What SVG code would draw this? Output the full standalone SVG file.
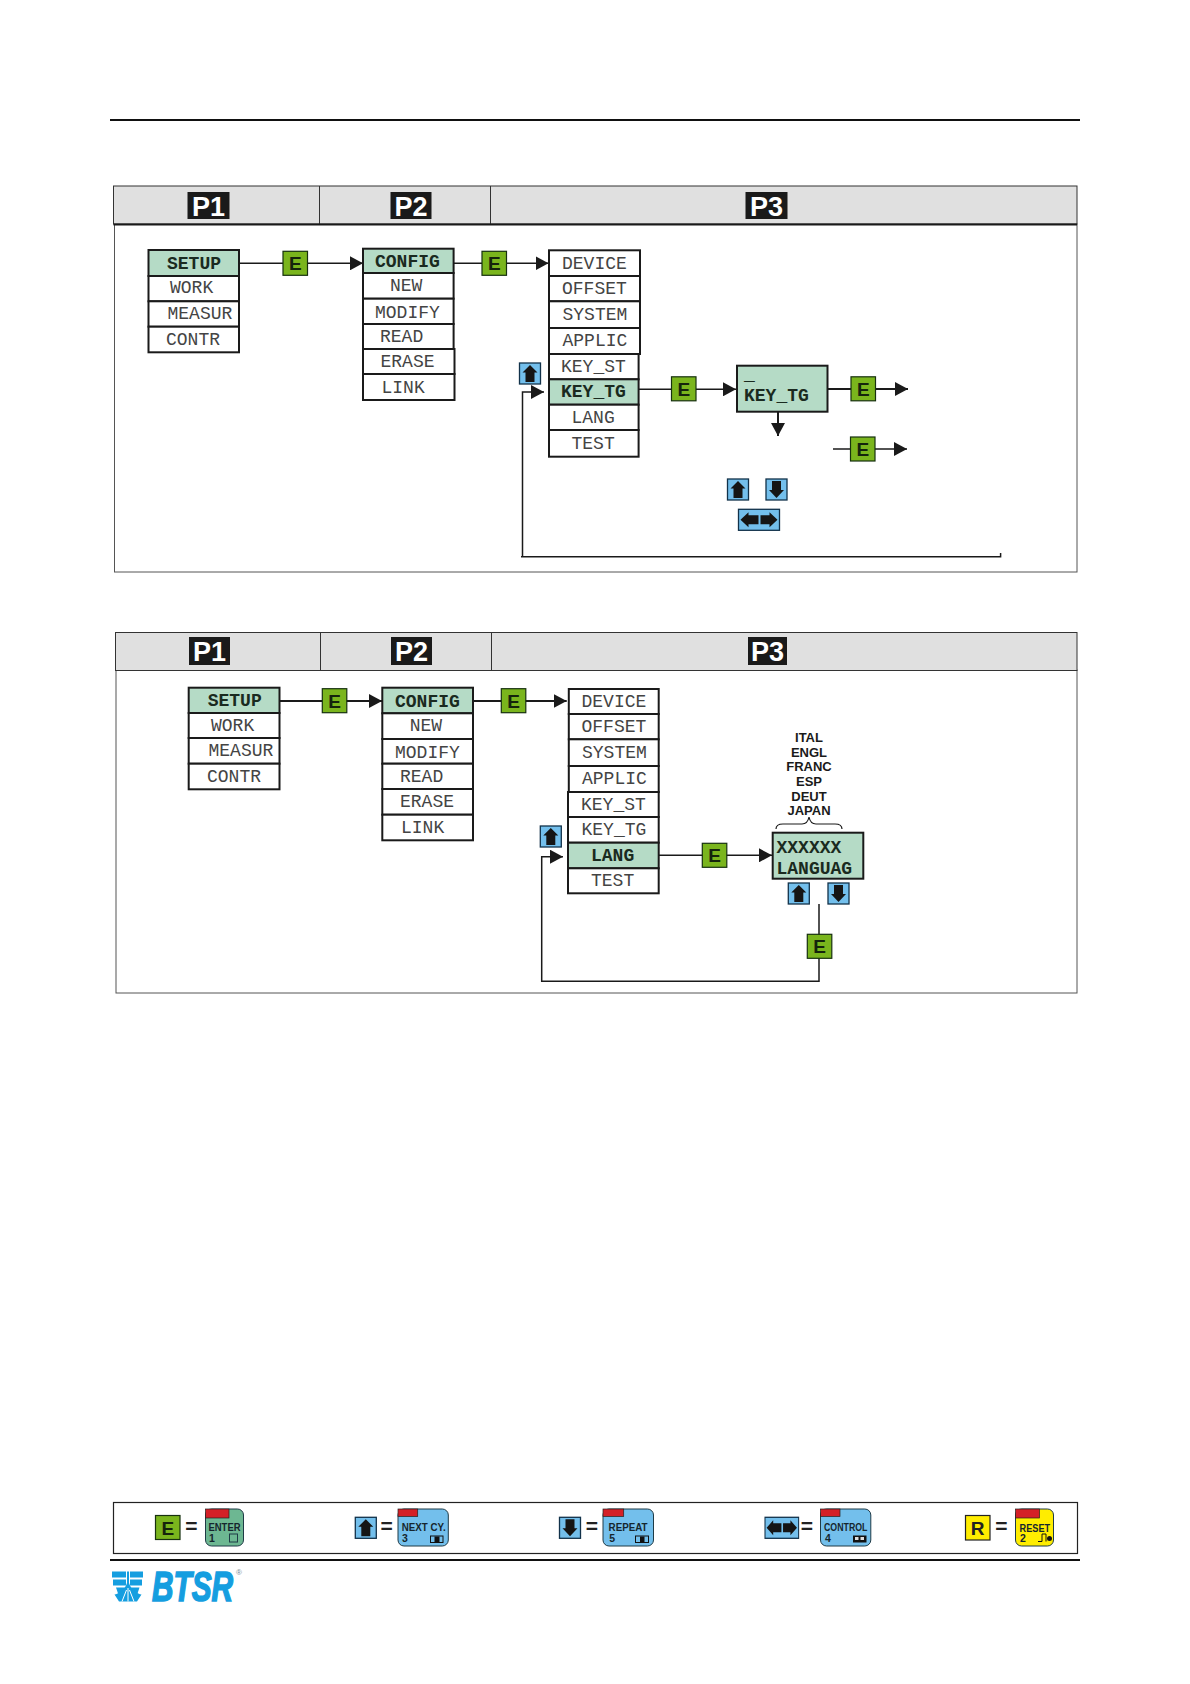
<svg xmlns="http://www.w3.org/2000/svg" width="1190" height="1684" viewBox="0 0 1190 1684">
<style>
.hd{fill:#e0e0e0;stroke:#333;stroke-width:1}
.body{fill:#fff;stroke:#555;stroke-width:1}
.rule{stroke:#111;stroke-width:2;fill:none}
.badge{fill:#1a1a1a}
.bt{font:bold 27px "Liberation Sans",sans-serif;fill:#fff;text-anchor:middle}
.r{fill:#fff;stroke:#1a1a1a;stroke-width:2}
.g{fill:#b5dbc6;stroke:#1a1a1a;stroke-width:2}
.m{font:18px "Liberation Mono",monospace;fill:#444}
.mb{font:bold 18px "Liberation Mono",monospace;fill:#1a2a20}
.c{fill:none;stroke:#1a1a1a;stroke-width:1.5}
.e{fill:#7ab51d;stroke:#17310f;stroke-width:1.2}
.et{font:bold 19px "Liberation Sans",sans-serif;fill:#15240c;text-anchor:middle}
.bl{fill:#73bfec;stroke:#12324a;stroke-width:1.3}
.ar{fill:#151515}
.ln{font:bold 13px "Liberation Sans",sans-serif;fill:#1a1a1a;text-anchor:middle}
.eq{font:bold 21px "Liberation Sans",sans-serif;fill:#222;text-anchor:middle}
.k{stroke:#1f3b46;stroke-width:1}
.kt{font:bold 10.500px "Liberation Sans",sans-serif;fill:#15262e}
.red{fill:#d42027;stroke:#222;stroke-width:.7}
.ic{fill:#73bfec;stroke:#111;stroke-width:1}
.logo{fill:#159ee0}
</style>
<defs>
<marker id="a" markerUnits="userSpaceOnUse" markerWidth="13" markerHeight="14" refX="13" refY="7" orient="auto"><path d="M0 0L13 7L0 14Z" fill="#1a1a1a"/></marker>
<g id="up"><rect class="bl" x="0" y="0" width="21" height="21"/><path class="ar" d="M10.500 2L18 9.500H15V19H6V9.500H3Z"/></g>
<g id="dn"><rect class="bl" x="0" y="0" width="21" height="21"/><path class="ar" d="M6 2H15V11H18L10.500 19L3 11H6Z"/></g>
<g id="lr"><rect class="bl" x="0" y="0" width="41" height="21"/><path class="ar" d="M2 10.500L10 3V6H20V15H10V18Z"/><path class="ar" d="M39 10.500L31 3V6H22V15H31V18Z"/></g>
<g id="E"><rect class="e" x="0" y="0" width="24.500" height="24"/><text class="et" x="12.300" y="19">E</text></g>
</defs>

<g id="page-rules">
<path class="rule" d="M110 120H1080"/>
<path class="rule" d="M110 1560H1080"/>
</g>

<g id="panel-top">
<rect class="body" x="114.500" y="224" width="962.500" height="348"/>
<rect class="hd" x="113.500" y="186" width="963.500" height="38"/>
<path d="M319.500 186V224M490.500 186V224" stroke="#333" fill="none"/>
<path d="M113.500 224.500H1077" stroke="#1a1a1a" stroke-width="2" fill="none"/>
<rect class="badge" x="187.500" y="192" width="42" height="27"/><text class="bt" x="208.500" y="215.500">P1</text>
<rect class="badge" x="390.500" y="192" width="41" height="27"/><text class="bt" x="411" y="215.500">P2</text>
<rect class="badge" x="745.500" y="192" width="42" height="27"/><text class="bt" x="766.500" y="215.500">P3</text>
</g>

<g id="panel-bottom">
<rect class="body" x="116" y="670" width="961" height="323"/>
<rect class="hd" x="115.500" y="632.500" width="961.500" height="38"/>
<path d="M320.500 632V670M491.500 632V670" stroke="#333" fill="none"/>
<rect class="badge" x="189" y="637" width="41" height="28"/><text class="bt" x="209.500" y="660.500">P1</text>
<rect class="badge" x="391" y="637" width="41" height="28"/><text class="bt" x="411.500" y="660.500">P2</text>
<rect class="badge" x="748" y="637" width="39" height="28"/><text class="bt" x="767.500" y="660.500">P3</text>
</g>

<g id="connectors">
<path class="c" d="M239 263.300H363" marker-end="url(#a)"/>
<path class="c" d="M453.600 263.300H548.500" marker-end="url(#a)"/>
<path class="c" d="M522.500 556.700V392H544" marker-end="url(#a)"/>
<path class="c" d="M521 556.700H1000.600V553"/>
<path class="c" d="M639 389.300H736" marker-end="url(#a)"/>
<path class="c" style="stroke-width:2" d="M778 411.700V436" marker-end="url(#a)"/>
<path class="c" style="stroke-width:2" d="M827.500 389H908" marker-end="url(#a)"/>
<path class="c" d="M833 449H907" marker-end="url(#a)"/>
<path class="c" style="stroke-width:2" d="M279.500 701H382" marker-end="url(#a)"/>
<path class="c" style="stroke-width:2" d="M473 701H566.700" marker-end="url(#a)"/>
<path class="c" d="M658.700 855.300H772" marker-end="url(#a)"/>
<path class="c" d="M819 904V981.300H541.700V856.700H563" marker-end="url(#a)"/>
<path class="c" style="stroke-width:1.200" d="M776 829C776 825 779 824 783 824H802C806 824 808 822 809 817C810 822 812 824 816 824H835C839 824 842 825 842 829"/>
</g>

<g id="menu-setup-1">
<rect class="g" x="148.500" y="250" width="90.500" height="26"/><rect class="r" x="148.500" y="276" width="90.500" height="25.300"/><rect class="r" x="148.500" y="301.300" width="90.500" height="25.400"/><rect class="r" x="148.500" y="326.700" width="90.500" height="25.600"/>
<text class="mb" x="167" y="269">SETUP</text><text class="m" x="170" y="293">WORK</text><text class="m" x="167.500" y="319">MEASUR</text><text class="m" x="166" y="345">CONTR</text>
</g>
<g id="menu-config-1">
<rect class="g" x="363" y="248.700" width="90.600" height="24.300"/><rect class="r" x="363" y="273" width="90.600" height="25.700"/><rect class="r" x="363" y="298.700" width="90.600" height="25.300"/><rect class="r" x="363" y="324" width="90.600" height="25"/><rect class="r" x="363" y="349" width="91.500" height="25"/><rect class="r" x="363" y="374" width="91.500" height="26"/>
<text class="mb" x="375" y="266.700">CONFIG</text><text class="m" x="390" y="290.700">NEW</text><text class="m" x="375" y="318">MODIFY</text><text class="m" x="380" y="341.700">READ</text><text class="m" x="380.500" y="366.700">ERASE</text><text class="m" x="381.500" y="392.700">LINK</text>
</g>
<g id="menu-params-1">
<rect class="r" x="549" y="250.300" width="91" height="25.700"/><rect class="r" x="549" y="276" width="91" height="25.300"/><rect class="r" x="549" y="301.300" width="91" height="26.700"/><rect class="r" x="549" y="328" width="91" height="26"/><rect class="r" x="549" y="354" width="89.600" height="25.300"/><rect class="g" x="549" y="379.300" width="89.600" height="25.400"/><rect class="r" x="549" y="404.700" width="89.600" height="25.300"/><rect class="r" x="549" y="430" width="89.600" height="26.700"/>
<text class="m" x="562" y="269">DEVICE</text><text class="m" x="562" y="294">OFFSET</text><text class="m" x="562.500" y="320">SYSTEM</text><text class="m" x="562.500" y="346">APPLIC</text><text class="m" x="561" y="372">KEY_ST</text><text class="mb" x="561" y="396.700">KEY_TG</text><text class="m" x="571.500" y="422.700">LANG</text><text class="m" x="571.500" y="448.700">TEST</text>
</g>
<g id="display-key-tg">
<rect class="g" x="737" y="365.700" width="90.500" height="46"/>
<text class="mb" x="744" y="380">_</text><text class="mb" x="744" y="400.500">KEY_TG</text>
</g>

<g id="menu-setup-2">
<rect class="g" x="188.700" y="687.700" width="90.800" height="25.300"/><rect class="r" x="188.700" y="713" width="90.800" height="25"/><rect class="r" x="188.700" y="738" width="90.800" height="25.700"/><rect class="r" x="188.700" y="763.700" width="90.800" height="25.600"/>
<text class="mb" x="207.700" y="706">SETUP</text><text class="m" x="211" y="730.700">WORK</text><text class="m" x="208.500" y="756.300">MEASUR</text><text class="m" x="207" y="782.300">CONTR</text>
</g>
<g id="menu-config-2">
<rect class="g" x="382.300" y="687.700" width="90.700" height="25.600"/><rect class="r" x="382.300" y="713.300" width="90.700" height="25.700"/><rect class="r" x="382.300" y="739" width="90.700" height="24.700"/><rect class="r" x="382.300" y="763.700" width="90.700" height="25.300"/><rect class="r" x="382.300" y="789" width="90.700" height="25.700"/><rect class="r" x="382.300" y="814.700" width="90.700" height="25.600"/>
<text class="mb" x="395" y="706.700">CONFIG</text><text class="m" x="409.700" y="731">NEW</text><text class="m" x="395" y="758.300">MODIFY</text><text class="m" x="400" y="782.300">READ</text><text class="m" x="400" y="806.700">ERASE</text><text class="m" x="401" y="833.300">LINK</text>
</g>
<g id="menu-params-2">
<rect class="r" x="568.800" y="689" width="89.900" height="25"/><rect class="r" x="568.800" y="714" width="89.900" height="25.300"/><rect class="r" x="568.800" y="739.300" width="89.900" height="26.700"/><rect class="r" x="568.800" y="766" width="89.900" height="26"/><rect class="r" x="568" y="792" width="90.700" height="25"/><rect class="r" x="568" y="817" width="90.700" height="25.700"/><rect class="g" x="568" y="842.700" width="90.700" height="25.600"/><rect class="r" x="568" y="868.300" width="90.700" height="25"/>
<text class="m" x="581.500" y="707.300">DEVICE</text><text class="m" x="581.500" y="731.700">OFFSET</text><text class="m" x="582" y="757.700">SYSTEM</text><text class="m" x="582" y="784">APPLIC</text><text class="m" x="581" y="810.300">KEY_ST</text><text class="m" x="581.500" y="834.700">KEY_TG</text><text class="mb" x="591" y="860.700">LANG</text><text class="m" x="591" y="886.300">TEST</text>
</g>
<g id="display-lang">
<rect class="g" x="772.700" y="832.700" width="90.600" height="46"/>
<text class="mb" x="776.500" y="853.300">XXXXXX</text><text class="mb" x="776.500" y="874">LANGUAG</text>
</g>
<g id="lang-list">
<text class="ln" x="809" y="742">ITAL</text><text class="ln" x="809" y="756.700">ENGL</text><text class="ln" x="809" y="771">FRANC</text><text class="ln" x="809" y="785.700">ESP</text><text class="ln" x="809" y="800.700">DEUT</text><text class="ln" x="809" y="815">JAPAN</text>
</g>

<g id="keys-flow">
<use href="#E" x="283" y="251.300"/><use href="#E" x="482" y="251.300"/><use href="#E" x="671.500" y="376.800"/><use href="#E" x="851" y="376.800"/><use href="#E" x="850.500" y="437"/>
<use href="#E" x="322.300" y="688.700"/><use href="#E" x="501.300" y="688.700"/><use href="#E" x="702.300" y="843.300"/><use href="#E" x="807.300" y="934.300"/>
<use href="#up" x="519.500" y="363"/><use href="#up" x="727.500" y="479"/><use href="#dn" x="766" y="479"/><use href="#lr" x="738.500" y="509.300"/>
<use href="#up" x="540.300" y="826"/><use href="#up" x="788.300" y="883"/><use href="#dn" x="828" y="883"/>
</g>

<g id="legend">
<rect x="113.500" y="1502.500" width="964" height="51" fill="#fff" stroke="#222" stroke-width="1.200"/>
<g id="legend-enter">
<use href="#E" x="155.500" y="1515.500"/><text class="eq" x="191.500" y="1532.500">=</text>
<rect class="k" x="205.500" y="1509" width="38" height="37" rx="6" fill="#6db792"/><rect class="red" x="205.500" y="1509" width="23.500" height="9"/>
<text class="kt" x="208.500" y="1530.700" textLength="32" lengthAdjust="spacingAndGlyphs">ENTER</text><text class="kt" x="209" y="1541.700">1</text><rect class="k" x="229.500" y="1534" width="8" height="8" fill="none"/>
</g>
<g id="legend-next">
<use href="#up" x="355.300" y="1517.300"/><text class="eq" x="386.700" y="1532.500">=</text>
<rect class="k" x="398" y="1509" width="50.300" height="37" rx="6" fill="#73bfec"/><rect class="red" x="398" y="1509" width="19.700" height="7.500"/>
<text class="kt" x="401.700" y="1530.700" textLength="44" lengthAdjust="spacingAndGlyphs">NEXT CY.</text><text class="kt" x="402" y="1541.700">3</text><rect class="ic" x="430.500" y="1536" width="12.500" height="6.500"/><rect x="434.500" y="1536.500" width="5" height="5.500" fill="#111"/>
</g>
<g id="legend-repeat">
<use href="#dn" x="559.500" y="1517.300"/><text class="eq" x="591.800" y="1532.500">=</text>
<rect class="k" x="603" y="1509" width="50.500" height="37" rx="6" fill="#73bfec"/><rect class="red" x="603" y="1509" width="20.700" height="7.500"/>
<text class="kt" x="608.600" y="1530.700" textLength="39" lengthAdjust="spacingAndGlyphs">REPEAT</text><text class="kt" x="609.300" y="1541.700">5</text><rect class="ic" x="635.500" y="1536" width="13" height="6.500"/><rect x="640" y="1536.500" width="4.500" height="5.500" fill="#111"/>
</g>
<g id="legend-control">
<g transform="translate(765 1517.300) scale(.82 1)"><use href="#lr"/></g><text class="eq" x="807" y="1532.500">=</text>
<rect class="k" x="820.500" y="1509" width="50.300" height="37" rx="6" fill="#73bfec"/><rect class="red" x="820.500" y="1509" width="19.500" height="7.500"/>
<text class="kt" x="824" y="1530.700" textLength="43.500" lengthAdjust="spacingAndGlyphs">CONTROL</text><text class="kt" x="825" y="1541.700">4</text><rect x="853" y="1535.500" width="13.500" height="7" fill="#111"/><rect x="855" y="1537" width="3.500" height="3" fill="#ddd"/><rect x="860.500" y="1537" width="3.500" height="3" fill="#ddd"/>
</g>
<g id="legend-reset">
<rect x="965.500" y="1515.500" width="24.500" height="24.500" fill="#ffed00" stroke="#222" stroke-width="1.200"/><text x="977.700" y="1534.500" text-anchor="middle" style="font:bold 19px 'Liberation Sans',sans-serif;fill:#222">R</text><text class="eq" x="1001.400" y="1532.500">=</text>
<rect class="k" x="1015.500" y="1509" width="38" height="37" rx="6" fill="#ffed00"/><rect class="red" x="1015.500" y="1509" width="24" height="9"/>
<text class="kt" x="1019.600" y="1531.500" textLength="30.500" lengthAdjust="spacingAndGlyphs">RESET</text><text class="kt" x="1020" y="1541.700">2</text><path d="M1038 1541.500H1042V1534H1046V1541.500" fill="none" stroke="#111"/><circle cx="1049.500" cy="1538.500" r="2.500" fill="#111"/>
</g>
</g>

<g id="logo">
<path class="logo" d="M112 1571.500H126V1577.500H112ZM113 1579.500H126V1585.500H113ZM116 1587.500H126V1593.500H118Z"/>
<path class="logo" d="M130 1571.500H143V1577.500H130ZM130 1579.500H142V1585.500H130ZM130 1587.500H139.500L137.500 1593.500H130Z"/>
<path class="logo" d="M127 1571.500H129V1583C131 1590 138 1594 141.500 1594.500L137 1601.500H119L114.500 1594.500C118 1594 125 1590 127 1583Z"/>
<path d="M122 1601.500L126.500 1590M128 1601.500V1588M134 1601.500L129.500 1590" stroke="#fff" stroke-width="1" fill="none"/>
<text class="logo" transform="translate(152 1601) scale(.71 1)" stroke="#159ee0" stroke-width="1.600" style="font:bold italic 42px 'Liberation Sans',sans-serif">BTSR</text>
<text x="236" y="1575" style="font:8px 'Liberation Sans',sans-serif;fill:#7a8a96">®</text>
</g>
</svg>
